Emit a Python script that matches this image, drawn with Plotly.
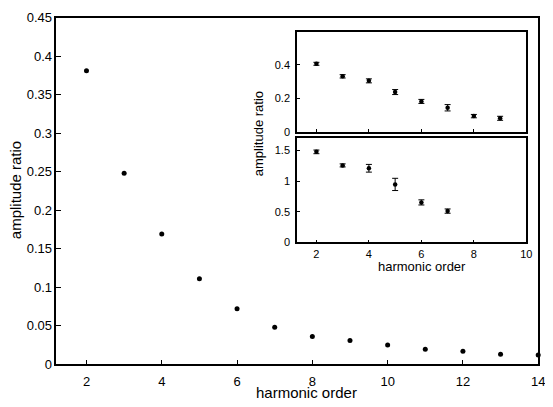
import plotly.graph_objects as go

# ---- data ----
harmonic_main = [2, 3, 4, 5, 6, 7, 8, 9, 10, 11, 12, 13, 14]
ratio_main = [0.381, 0.248, 0.169, 0.111, 0.072, 0.048, 0.036, 0.031, 0.025, 0.0195, 0.017, 0.013, 0.012]

harmonic_top = [2, 3, 4, 5, 6, 7, 8, 9]
ratio_top = [0.407, 0.332, 0.305, 0.238, 0.182, 0.144, 0.094, 0.081]
err_top = [0.009, 0.01, 0.012, 0.015, 0.012, 0.019, 0.01, 0.012]

harmonic_bottom = [2, 3, 4, 5, 6, 7]
ratio_bottom = [1.478, 1.257, 1.21, 0.946, 0.652, 0.51]
err_bottom = [0.03, 0.025, 0.063, 0.1, 0.042, 0.035]

main_xticks = [2, 4, 6, 8, 10, 12, 14]
main_yticks = [0, 0.05, 0.1, 0.15, 0.2, 0.25, 0.3, 0.35, 0.4, 0.45]
main_yticktext = ["0", "0.05", "0.1", "0.15", "0.2", "0.25", "0.3", "0.35", "0.4", "0.45"]
inset_xticks = [2, 4, 6, 8, 10]
top_yticks = [0, 0.2, 0.4]
top_yticktext = ["0", "0.2", "0.4"]
bottom_yticks = [0, 0.5, 1, 1.5]
bottom_yticktext = ["0", "0.5", "1", "1.5"]

main_xrange = [1.2, 14]
main_yrange = [0, 0.45]
inset_xrange = [1.26, 10]
top_yrange = [0, 0.597]
bottom_yrange = [0, 1.7]

W, H = 553, 407
OFF = 8  # page body margin offset
FONT = "Liberation Sans, Arial, Helvetica, sans-serif"


def px_x(p):
    return (p - OFF) / W


def px_y(p):
    return 1 - (p - OFF) / H


fig = go.Figure()

fig.add_trace(go.Scatter(
    x=harmonic_main, y=ratio_main, mode="markers",
    marker=dict(color="black", size=5), xaxis="x", yaxis="y", showlegend=False,
    cliponaxis=False))

fig.add_trace(go.Scatter(
    x=harmonic_top, y=ratio_top, mode="markers",
    marker=dict(color="black", size=4.5),
    error_y=dict(type="data", array=err_top, color="black", thickness=1, width=3),
    xaxis="x2", yaxis="y2", showlegend=False))

fig.add_trace(go.Scatter(
    x=harmonic_bottom, y=ratio_bottom, mode="markers",
    marker=dict(color="black", size=4.5),
    error_y=dict(type="data", array=err_bottom, color="black", thickness=1, width=3),
    xaxis="x3", yaxis="y3", showlegend=False))

ax = dict(showline=True, mirror=True, linecolor="black", linewidth=1.5,
          ticks="inside", tickcolor="black", tickwidth=1, showgrid=False,
          zeroline=False, ticklabeloverflow="allow")
mirror_ax = dict(showline=False, ticks="inside", tickcolor="black", tickwidth=1,
                 showgrid=False, zeroline=False, showticklabels=False)

fig.update_layout(
    width=W, height=H,
    autosize=False,
    margin=dict(l=0, r=0, t=0, b=0, pad=0),
    paper_bgcolor="white", plot_bgcolor="white",
    font=dict(family=FONT, color="black"),
    xaxis=dict(domain=[px_x(57), px_x(545)], range=main_xrange,
               tickvals=main_xticks, ticklen=5, tickfont=dict(size=13),
               ticklabelstandoff=4, anchor="y", **ax),
    yaxis=dict(domain=[px_y(370.7), px_y(10.7)], range=main_yrange,
               tickvals=main_yticks, ticktext=main_yticktext, ticklen=5,
               tickfont=dict(size=13), anchor="x", **ax),
    xaxis2=dict(domain=[px_x(300.7), px_x(533)], range=inset_xrange,
                tickvals=inset_xticks, showticklabels=False, ticklen=3,
                anchor="y2", **ax),
    yaxis2=dict(domain=[px_y(129.3), px_y(25.7)], range=top_yrange,
                tickvals=top_yticks, ticktext=top_yticktext, ticklen=3,
                tickfont=dict(size=11), ticklabelstandoff=3, anchor="x2", **ax),
    xaxis3=dict(domain=[px_x(300.7), px_x(533)], range=inset_xrange,
                tickvals=inset_xticks, ticklen=3, tickfont=dict(size=11),
                ticklabelstandoff=1, anchor="y3", **ax),
    yaxis3=dict(domain=[px_y(244), px_y(136)], range=bottom_yrange,
                tickvals=bottom_yticks, ticktext=bottom_yticktext, ticklen=3,
                tickfont=dict(size=11), ticklabelstandoff=3, anchor="x3", **ax),
    # mirrored tick marks on the opposite sides
    xaxis4=dict(overlaying="x", side="top", anchor="y", range=main_xrange,
                tickvals=main_xticks, ticklen=5, **mirror_ax),
    yaxis4=dict(overlaying="y", side="right", anchor="x", range=main_yrange,
                tickvals=main_yticks, ticklen=5, **mirror_ax),
    xaxis5=dict(overlaying="x2", side="top", anchor="y2", range=inset_xrange,
                tickvals=inset_xticks, ticklen=3, **mirror_ax),
    yaxis5=dict(overlaying="y2", side="right", anchor="x2", range=top_yrange,
                tickvals=top_yticks, ticklen=3, **mirror_ax),
    xaxis6=dict(overlaying="x3", side="top", anchor="y3", range=inset_xrange,
                tickvals=inset_xticks, ticklen=3, **mirror_ax),
    yaxis6=dict(overlaying="y3", side="right", anchor="x3", range=bottom_yrange,
                tickvals=bottom_yticks, ticklen=3, **mirror_ax),
)

ann = dict(showarrow=False, xref="paper", yref="paper")
fig.add_annotation(text="harmonic order", x=px_x(310), y=px_y(400), xanchor="center", yanchor="middle",
                   font=dict(family=FONT, color="black", size=15), **ann)
fig.add_annotation(text="amplitude ratio", x=px_x(15), y=px_y(190), xanchor="center", yanchor="middle",
                   textangle=-90, font=dict(family=FONT, color="black", size=15), **ann)
fig.add_annotation(text="amplitude ratio", x=px_x(262), y=px_y(131), xanchor="center", yanchor="middle",
                   textangle=-90, font=dict(family=FONT, color="black", size=13), **ann)
fig.add_annotation(text="harmonic order", x=px_x(427), y=px_y(269), xanchor="center", yanchor="middle",
                   font=dict(family=FONT, color="black", size=13), **ann)

fig.write_html("out.html")
